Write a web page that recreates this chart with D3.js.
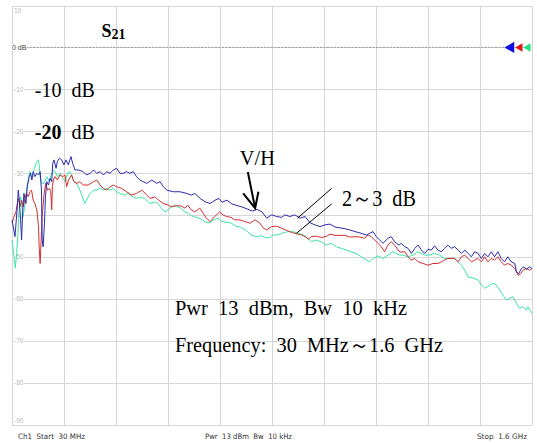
<!DOCTYPE html>
<html>
<head>
<meta charset="utf-8">
<script src="https://cdn.jsdelivr.net/npm/d3@7"></script>
<style>
  body { margin: 0; background: #fff; }
  svg { display: block; }
</style>
</head>
<body>
<svg id="chart" width="537" height="443"></svg>
<script>
// sweep 30 MHz .. 1.6 GHz, 10 dB/div
const freqRange = [30, 1600];
const dbRange = [-90, 10];
const dbTicks = [10, 0, -10, -20, -30, -40, -50, -60, -70, -80, -90];
const freqDivs = d3.range(0, 11);

// [MHz, dB]
const traceBlue = [[30,-41.1],[39,-45.1],[46,-38.0],[49,-34.0],[52,-36.4],[56,-41.1],[59,-45.9],[62,-39.5],[66,-34.8],[72,-37.2],[76,-33.2],[82,-30.8],[86,-30.0],[90,-31.6],[94,-29.6],[99,-30.8],[105,-30.0],[110,-30.4],[115,-29.6],[119,-34.0],[121,-45.9],[124,-47.5],[128,-41.9],[131,-35.6],[135,-32.0],[140,-32.8],[145,-31.2],[150,-32.0],[153,-27.6],[157,-26.8],[163,-28.8],[167,-27.2],[173,-26.4],[180,-26.8],[187,-28.0],[193,-26.8],[200,-28.0],[208,-26.0],[213,-27.6],[220,-29.2],[230,-29.2],[245,-29.6],[255,-30.4],[266,-30.0],[276,-29.2],[286,-30.0],[296,-29.6],[306,-30.4],[316,-29.6],[326,-30.0],[336,-29.2],[346,-28.8],[356,-30.0],[366,-30.0],[376,-29.6],[386,-30.0],[396,-29.6],[406,-30.8],[416,-31.6],[426,-32.0],[437,-32.4],[452,-31.6],[467,-32.4],[477,-32.0],[487,-33.2],[497,-34.0],[517,-34.4],[537,-34.4],[558,-34.8],[571,-35.2],[582,-34.8],[598,-36.0],[613,-36.8],[628,-37.2],[643,-36.4],[655,-36.0],[664,-36.9],[679,-36.4],[694,-37.3],[709,-37.7],[724,-38.0],[740,-38.5],[755,-39.0],[770,-38.6],[785,-39.2],[799,-40.7],[814,-39.9],[829,-40.3],[844,-40.5],[854,-39.9],[869,-40.3],[884,-39.9],[900,-40.7],[915,-40.3],[930,-41.8],[945,-42.3],[960,-42.7],[975,-42.3],[990,-42.1],[1005,-42.8],[1020,-43.0],[1035,-43.2],[1050,-43.5],[1066,-43.9],[1084,-44.3],[1100,-44.7],[1110,-44.3],[1120,-43.9],[1130,-45.1],[1140,-45.9],[1150,-46.7],[1165,-45.5],[1175,-45.1],[1185,-46.3],[1198,-47.1],[1205,-46.7],[1216,-47.5],[1226,-47.9],[1236,-49.1],[1246,-47.9],[1256,-47.1],[1266,-48.3],[1276,-49.1],[1286,-48.1],[1296,-48.3],[1306,-47.3],[1316,-48.3],[1326,-48.7],[1336,-47.9],[1346,-47.1],[1356,-47.9],[1366,-47.5],[1377,-48.3],[1387,-49.1],[1397,-48.3],[1407,-49.1],[1417,-49.9],[1427,-48.7],[1437,-49.1],[1447,-50.3],[1457,-49.1],[1467,-49.9],[1477,-48.7],[1487,-49.9],[1497,-48.7],[1507,-50.3],[1517,-51.1],[1527,-49.9],[1537,-51.1],[1548,-51.5],[1553,-53.5],[1560,-53.9],[1568,-52.7],[1576,-52.3],[1583,-52.9],[1593,-52.3],[1600,-52.7]];

const traceRed = [[30,-41.9],[36,-40.3],[42,-39.2],[46,-37.2],[50,-36.0],[54,-38.0],[59,-36.4],[64,-38.0],[69,-36.0],[74,-34.8],[79,-35.6],[84,-34.4],[89,-34.0],[94,-36.4],[99,-37.2],[105,-38.7],[110,-42.7],[112,-47.5],[115,-51.5],[118,-45.9],[121,-40.3],[127,-34.8],[132,-32.4],[137,-34.0],[143,-33.6],[147,-34.4],[150,-38.7],[152,-33.2],[155,-31.6],[160,-30.8],[167,-31.6],[175,-30.4],[183,-30.8],[190,-30.4],[195,-33.2],[201,-31.6],[210,-30.4],[217,-32.0],[225,-32.4],[235,-32.0],[245,-32.8],[260,-32.8],[276,-32.0],[286,-31.6],[296,-32.8],[306,-33.6],[316,-34.0],[326,-33.2],[336,-32.8],[346,-33.2],[361,-33.6],[376,-34.4],[391,-35.2],[406,-34.8],[422,-34.0],[437,-35.2],[447,-36.0],[462,-35.6],[472,-36.4],[487,-37.2],[502,-37.6],[512,-38.0],[527,-37.7],[541,-37.8],[552,-38.3],[561,-37.6],[571,-38.7],[582,-39.2],[597,-38.3],[607,-39.5],[617,-40.7],[628,-41.5],[642,-40.3],[657,-39.2],[667,-39.9],[677,-40.3],[691,-40.5],[703,-41.1],[718,-41.1],[733,-41.5],[749,-41.9],[764,-41.1],[779,-41.9],[789,-43.1],[799,-43.5],[814,-42.7],[829,-42.6],[844,-43.1],[859,-43.6],[874,-44.1],[888,-44.4],[905,-44.7],[915,-45.1],[925,-45.7],[934,-45.1],[949,-45.0],[965,-45.3],[980,-45.0],[990,-44.5],[1005,-44.8],[1020,-44.8],[1035,-44.8],[1050,-45.2],[1066,-45.1],[1081,-45.2],[1095,-45.5],[1105,-44.7],[1115,-45.1],[1130,-46.3],[1145,-47.5],[1155,-48.7],[1165,-47.1],[1175,-46.3],[1185,-47.1],[1201,-48.8],[1216,-48.7],[1226,-49.9],[1236,-50.7],[1246,-50.3],[1256,-51.1],[1271,-51.5],[1286,-51.9],[1301,-51.5],[1316,-51.5],[1326,-51.1],[1336,-50.7],[1346,-50.3],[1366,-50.3],[1377,-51.1],[1387,-49.9],[1397,-49.5],[1407,-50.3],[1417,-51.1],[1427,-50.7],[1437,-50.3],[1447,-51.1],[1457,-49.9],[1467,-51.1],[1477,-50.3],[1487,-50.7],[1497,-49.9],[1507,-51.1],[1517,-51.9],[1527,-51.5],[1537,-51.9],[1548,-52.7],[1558,-54.3],[1566,-53.9],[1573,-53.1],[1583,-52.7],[1593,-53.1],[1600,-52.7]];

const traceGreen = [[30,-45.9],[36,-49.9],[40,-52.6],[44,-49.1],[48,-44.3],[52,-38.0],[56,-35.6],[60,-38.0],[64,-40.3],[69,-37.2],[74,-34.0],[79,-31.6],[84,-29.6],[89,-30.8],[94,-30.0],[99,-28.4],[105,-27.2],[110,-26.8],[112,-28.0],[115,-30.8],[120,-32.4],[127,-32.4],[135,-30.8],[143,-32.0],[150,-30.0],[155,-29.2],[160,-29.6],[167,-30.8],[175,-30.0],[185,-31.2],[190,-32.0],[198,-30.0],[205,-29.6],[215,-31.6],[225,-32.4],[235,-34.0],[250,-37.2],[257,-36.0],[266,-34.8],[276,-34.0],[286,-34.0],[296,-33.6],[306,-34.0],[316,-33.6],[326,-34.0],[336,-33.6],[346,-34.4],[356,-34.8],[371,-35.2],[381,-34.8],[396,-35.6],[406,-36.0],[416,-35.7],[431,-36.0],[446,-37.2],[461,-36.8],[471,-37.2],[481,-38.3],[491,-39.2],[501,-38.7],[511,-38.0],[521,-37.6],[531,-38.0],[541,-38.3],[551,-39.2],[561,-39.5],[571,-40.1],[586,-40.5],[601,-40.9],[613,-41.6],[627,-41.8],[638,-41.1],[652,-40.7],[662,-41.4],[676,-41.7],[691,-41.8],[706,-42.6],[722,-42.9],[737,-43.6],[752,-44.7],[768,-45.1],[783,-44.9],[798,-45.4],[809,-45.3],[818,-44.7],[833,-44.7],[848,-44.2],[863,-43.9],[878,-43.9],[894,-44.3],[909,-44.7],[924,-45.5],[934,-46.3],[949,-45.9],[964,-46.3],[979,-47.1],[994,-46.7],[1009,-47.5],[1024,-47.9],[1039,-48.3],[1054,-48.7],[1069,-49.1],[1085,-49.9],[1100,-50.7],[1110,-51.1],[1120,-50.3],[1135,-49.7],[1150,-50.3],[1165,-49.5],[1180,-48.7],[1190,-49.1],[1201,-49.5],[1210,-49.5],[1226,-49.9],[1241,-49.5],[1256,-48.7],[1266,-49.1],[1276,-49.5],[1291,-49.5],[1306,-49.1],[1321,-49.5],[1336,-50.3],[1351,-50.3],[1366,-50.3],[1377,-51.1],[1387,-51.9],[1397,-53.1],[1407,-54.7],[1422,-55.0],[1437,-55.4],[1447,-56.6],[1457,-57.4],[1467,-57.0],[1482,-56.2],[1492,-56.6],[1502,-57.8],[1512,-59.0],[1522,-60.2],[1533,-59.8],[1543,-59.4],[1553,-61.0],[1563,-62.2],[1573,-61.8],[1583,-62.6],[1588,-61.8],[1600,-63.4]];

const traces = [
  { name: "green", color: "#3ce6a4", data: traceGreen },
  { name: "red", color: "#d42e2e", data: traceRed },
  { name: "blue", color: "#2b2bb0", data: traceBlue }
];

const svg = d3.select("#chart");

const x = d3.scaleLinear().domain(freqRange).range([12, 532]);
const y = d3.scaleLinear().domain(dbRange).range([425, 5.5]);

// grid
const grid = svg.append("g")
  .attr("stroke", "#d6d6d6")
  .attr("stroke-width", 1)
  .attr("shape-rendering", "crispEdges");

grid.selectAll("line.h")
  .data(dbTicks)
  .join("line")
  .attr("class", "h")
  .attr("x1", x(freqRange[0]))
  .attr("x2", x(freqRange[1]))
  .attr("y1", d => Math.round(y(d)) + 0.5)
  .attr("y2", d => Math.round(y(d)) + 0.5);

grid.selectAll("line.v")
  .data(freqDivs)
  .join("line")
  .attr("class", "v")
  .attr("x1", d => Math.round(x(freqRange[0] + d * (freqRange[1] - freqRange[0]) / 10)) + 0.5)
  .attr("x2", d => Math.round(x(freqRange[0] + d * (freqRange[1] - freqRange[0]) / 10)) + 0.5)
  .attr("y1", y(10))
  .attr("y2", y(-90));

// y labels, small grey inside the plot
svg.append("g")
  .style("font-family", "'Liberation Sans', Arial, sans-serif")
  .style("font-size", "6.5px")
  .selectAll("text")
  .data(dbTicks.filter(d => d !== 0))
  .join("text")
  .attr("x", 14)
  .attr("y", d => d === 10 ? y(d) + 5 : d === -90 ? y(d) - 4 : y(d))
  .attr("dy", "0.35em")
  .attr("fill", "#b8b8b8")
  .attr("stroke", "#fff")
  .attr("stroke-width", 2)
  .attr("paint-order", "stroke")
  .text(d => d);

// 0 dB reference line and trace markers
svg.append("line")
  .attr("x1", x(freqRange[0]))
  .attr("x2", x(freqRange[1]) - 25)
  .attr("y1", y(0))
  .attr("y2", y(0))
  .attr("stroke", "#999")
  .attr("stroke-dasharray", "2,1.5");

svg.append("text")
  .attr("x", 12)
  .attr("y", y(0))
  .attr("dy", "0.35em")
  .style("font-family", "'Liberation Sans', Arial, sans-serif")
  .style("font-size", "7px")
  .attr("fill", "#444")
  .attr("stroke", "#fff")
  .attr("stroke-width", 2)
  .attr("paint-order", "stroke")
  .text("0 dB");

const markers = [
  { color: "#1010e0", dx: -21, size: 55 },
  { color: "#e01818", dx: -12, size: 32 },
  { color: "#22e08a", dx: -4, size: 32 }
];
svg.append("g")
  .selectAll("path")
  .data(markers)
  .join("path")
  .attr("d", d => d3.symbol(d3.symbolTriangle, d.size)())
  .attr("transform", d => `translate(${x(freqRange[1]) + d.dx},${y(0)}) rotate(-90)`)
  .attr("fill", d => d.color);

// traces
const line = d3.line()
  .x(d => x(d[0]))
  .y(d => y(d[1]));

svg.append("g")
  .attr("fill", "none")
  .selectAll("path")
  .data(traces)
  .join("path")
  .attr("d", d => line(d.data))
  .attr("stroke", d => d.color)
  .attr("stroke-width", 1)
  .attr("stroke-linejoin", "round");

// annotations
const serif = "'Liberation Serif', 'Times New Roman', serif";

const s21 = svg.append("text")
  .attr("x", x(300))
  .attr("y", y(2.6))
  .style("font-family", serif)
  .style("font-weight", "bold")
  .attr("fill", "#000");
s21.append("tspan").style("font-size", "18px").text("S");
s21.append("tspan").style("font-size", "14px").attr("dy", 2).text("21");

const levelNotes = [
  { label: "-10", db: -10 },
  { label: "-20", db: -20 }
];
const lvl = svg.append("g")
  .style("font-family", serif)
  .style("font-size", "20px")
  .attr("fill", "#000")
  .selectAll("text")
  .data(levelNotes)
  .join("text")
  .attr("x", x(99))
  .attr("y", d => y(d.db) + 7.5)
  .attr("xml:space", "preserve");
lvl.append("tspan").style("font-weight", d => d.db === -20 ? "bold" : "normal").text(d => d.label);
lvl.append("tspan").text("  dB");

svg.append("text")
  .attr("x", x(718))
  .attr("y", y(-28))
  .style("font-family", serif)
  .style("font-size", "22px")
  .attr("textLength", 35)
  .attr("lengthAdjust", "spacingAndGlyphs")
  .text("V/H");

svg.append("text")
  .attr("x", x(1026))
  .attr("y", y(-37.8))
  .style("font-family", serif)
  .style("font-size", "23px")
  .attr("textLength", 74)
  .attr("lengthAdjust", "spacingAndGlyphs")
  .attr("xml:space", "preserve")
  .text("2～3  dB");

// V/H arrow
const arrow = [[742, -29.7], [764, -38.3]];
const arrowHead = [[728, -34.8], [764, -38.3], [774, -34.4]];
svg.append("path")
  .attr("d", line(arrow))
  .attr("stroke", "#000")
  .attr("stroke-width", 2)
  .attr("fill", "none");
svg.append("path")
  .attr("d", line(arrowHead))
  .attr("stroke", "#000")
  .attr("stroke-width", 2)
  .attr("fill", "none");

// 2~3 dB leader lines
const leaders = [
  [[995, -33.6], [892, -40.7]],
  [[995, -37.3], [889, -44.3]]
];
svg.append("g")
  .selectAll("path")
  .data(leaders)
  .join("path")
  .attr("d", d => line(d))
  .attr("stroke", "#000")
  .attr("stroke-width", 1)
  .attr("fill", "none");

const infoLines = [
  { text: "Pwr  13  dBm,  Bw  10  kHz", db: -63.8, width: 232 },
  { text: "Frequency:  30  MHz～1.6  GHz", db: -72.6, width: 268 }
];
svg.append("g")
  .style("font-family", serif)
  .style("font-size", "21px")
  .attr("fill", "#000")
  .selectAll("text")
  .data(infoLines)
  .join("text")
  .attr("x", x(522))
  .attr("y", d => y(d.db))
  .attr("textLength", d => d.width)
  .attr("lengthAdjust", "spacingAndGlyphs")
  .attr("xml:space", "preserve")
  .text(d => d.text);

// footer
const footer = [
  { text: "Ch1  Start  30 MHz", x: 18, width: 67 },
  { text: "Pwr  13 dBm  Bw  10 kHz", x: 205, width: 87 },
  { text: "Stop  1.6 GHz", x: 477, width: 50 }
];
svg.append("g")
  .style("font-family", "'DejaVu Sans', Tahoma, sans-serif")
  .style("font-size", "7.5px")
  .attr("fill", "#333")
  .selectAll("text")
  .data(footer)
  .join("text")
  .attr("x", d => d.x)
  .attr("y", 439)
  .attr("textLength", d => d.width)
  .attr("lengthAdjust", "spacingAndGlyphs")
  .attr("xml:space", "preserve")
  .text(d => d.text);
</script>
</body>
</html>
